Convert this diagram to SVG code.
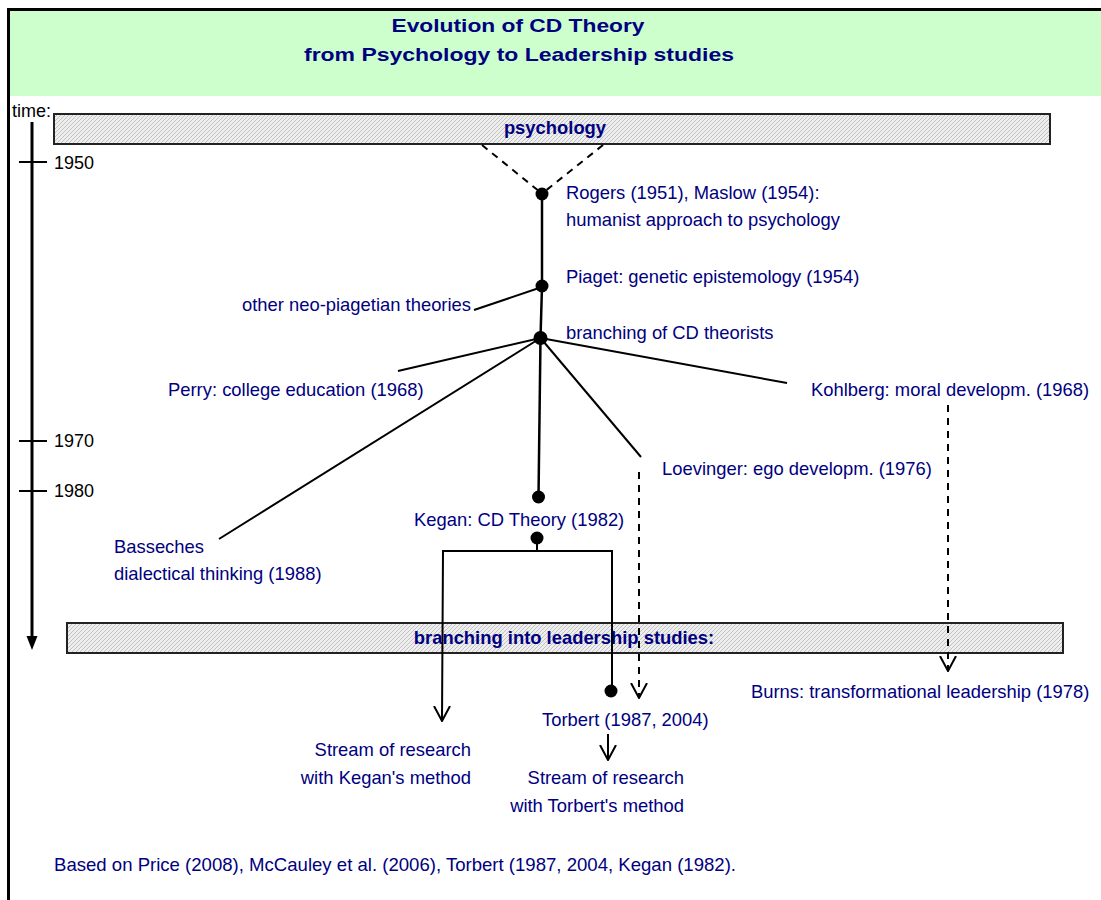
<svg xmlns="http://www.w3.org/2000/svg" width="1101" height="900" viewBox="0 0 1101 900">
<style>
.t{font-family:"Liberation Sans",Arial,sans-serif;font-size:18.4px;fill:#000080}
.k{font-family:"Liberation Sans",Arial,sans-serif;font-size:18px;fill:#000}
.b{font-weight:bold}
.ln{stroke:#000;stroke-width:2;fill:none}
.tr{stroke:#000;stroke-width:2.5;fill:none}
.ds{stroke:#000;stroke-width:2;fill:none;stroke-dasharray:7 6}
.dot{fill:#000}
.bar{fill:url(#hatch);stroke:#222;stroke-width:2}
</style>
<defs>
<pattern id="hatch" width="4" height="4" patternUnits="userSpaceOnUse">
<rect width="4" height="4" fill="#eeeeee"/>
<path d="M-1,1 L1,-1 M0,4 L4,0 M3,5 L5,3" stroke="#bdbdbd" stroke-width="0.9"/>
</pattern>
<marker id="open" viewBox="0 0 16 18" refX="15" refY="9" markerWidth="16" markerHeight="18" markerUnits="userSpaceOnUse" orient="auto">
<path d="M0,1 L15,9 L0,17" fill="none" stroke="#000" stroke-width="2" stroke-dasharray="none"/>
</marker>
</defs>
<rect x="0" y="0" width="1101" height="900" fill="#fff"/>
<g id="frame">
<rect x="10" y="11" width="1091" height="85" fill="#ccffcc"/>
<line x1="7" y1="9.5" x2="1101" y2="9.5" stroke="#000" stroke-width="3"/>
<line x1="8.5" y1="8" x2="8.5" y2="900" stroke="#000" stroke-width="3"/>
</g>
<g id="title">
<text class="t b" x="518" y="32" text-anchor="middle" font-size="22.5" textLength="253" lengthAdjust="spacingAndGlyphs">Evolution of CD Theory</text>
<text class="t b" x="519" y="61" text-anchor="middle" font-size="22.5" textLength="430" lengthAdjust="spacingAndGlyphs">from Psychology to Leadership studies</text>
</g>
<g id="timeline">
<text class="k" x="12" y="117" font-size="16">time:</text>
<line x1="32" y1="122" x2="32" y2="638" stroke="#000" stroke-width="3"/>
<polygon points="26.5,636 37.5,636 32,650" fill="#000"/>
<line x1="19" y1="162" x2="47" y2="162" stroke="#000" stroke-width="2"/>
<line x1="19" y1="441" x2="47" y2="441" stroke="#000" stroke-width="2"/>
<line x1="19" y1="491" x2="47" y2="491" stroke="#000" stroke-width="2"/>
<text class="k" x="54" y="169">1950</text>
<text class="k" x="54" y="447">1970</text>
<text class="k" x="54" y="497">1980</text>
</g>
<g id="bar-psychology">
<rect class="bar" x="54" y="114" width="996" height="30"/>
<text class="t b" x="555" y="134" text-anchor="middle">psychology</text>
</g>
<g id="bar-leadership">
<rect class="bar" x="67" y="623" width="996" height="30"/>
<text class="t b" x="564" y="644" text-anchor="middle">branching into leadership studies:</text>
</g>
<g id="connectors">
<line class="ds" x1="482" y1="145" x2="540" y2="192"/>
<line class="ds" x1="603" y1="145" x2="544" y2="192"/>
<line class="tr" x1="542" y1="194" x2="542" y2="286"/>
<line class="ln" x1="474" y1="310" x2="542" y2="287"/>
<line class="tr" x1="542" y1="286" x2="540.5" y2="338"/>
<line class="ln" x1="540.5" y1="338" x2="398" y2="371"/>
<line class="ln" x1="540.5" y1="338" x2="219" y2="539"/>
<line class="tr" x1="540.5" y1="338" x2="538.5" y2="497"/>
<line class="ln" x1="540.5" y1="338" x2="641" y2="457"/>
<line class="ln" x1="540.5" y1="338" x2="787" y2="383"/>
<line class="ds" x1="639" y1="472" x2="639" y2="698" marker-end="url(#open)"/>
<line class="ds" x1="948" y1="405" x2="948" y2="671" marker-end="url(#open)"/>
<line class="ln" x1="537" y1="538" x2="537" y2="551"/>
<polyline class="ln" points="442,721 443,551 612,551 612,691"/>
<line class="ln" x1="442" y1="710" x2="442" y2="721" marker-end="url(#open)"/>
<line class="ln" x1="608" y1="734" x2="608" y2="760" marker-end="url(#open)"/>
</g>
<g id="node-rogers">
<circle class="dot" cx="542" cy="194" r="6.5"/>
<text class="t" x="566" y="199">Rogers (1951), Maslow (1954):</text>
<text class="t" x="566" y="226">humanist approach to psychology</text>
</g>
<g id="node-piaget">
<circle class="dot" cx="542" cy="286" r="6.5"/>
<text class="t" x="566" y="283">Piaget: genetic epistemology (1954)</text>
</g>
<g id="node-neopiagetian">
<text class="t" x="471" y="311" text-anchor="end">other neo-piagetian theories</text>
</g>
<g id="node-branching">
<circle class="dot" cx="540.5" cy="338" r="7"/>
<text class="t" x="566" y="339">branching of CD theorists</text>
</g>
<g id="node-perry">
<text class="t" x="168" y="396">Perry: college education (1968)</text>
</g>
<g id="node-kohlberg">
<text class="t" x="811" y="396">Kohlberg: moral developm. (1968)</text>
</g>
<g id="node-loevinger">
<text class="t" x="662" y="475">Loevinger: ego developm. (1976)</text>
</g>
<g id="node-basseches">
<text class="t" x="114" y="553">Basseches</text>
<text class="t" x="114" y="580">dialectical thinking (1988)</text>
</g>
<g id="node-kegan">
<circle class="dot" cx="538.5" cy="497" r="6.5"/>
<text class="t" x="414" y="526">Kegan: CD Theory (1982)</text>
<circle class="dot" cx="537" cy="538" r="6.5"/>
</g>
<g id="node-burns">
<text class="t" x="751" y="698">Burns: transformational leadership (1978)</text>
</g>
<g id="node-torbert">
<circle class="dot" cx="611" cy="691" r="6.5"/>
<text class="t" x="542" y="726">Torbert (1987, 2004)</text>
</g>
<g id="node-stream-kegan">
<text class="t" x="471" y="756" text-anchor="end">Stream of research</text>
<text class="t" x="471" y="784" text-anchor="end">with Kegan's method</text>
</g>
<g id="node-stream-torbert">
<text class="t" x="684" y="784" text-anchor="end">Stream of research</text>
<text class="t" x="684" y="812" text-anchor="end">with Torbert's method</text>
</g>
<g id="footer">
<text class="t" x="54" y="871" font-size="18.5" textLength="682" lengthAdjust="spacingAndGlyphs">Based on Price (2008), McCauley et al. (2006), Torbert (1987, 2004, Kegan (1982).</text>
</g>
</svg>
